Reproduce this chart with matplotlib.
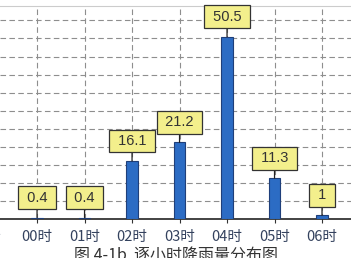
import matplotlib
matplotlib.use('Agg')
import matplotlib.pyplot as plt

plt.rcParams['font.family'] = ['Noto Sans CJK SC', 'DejaVu Sans']

# hourly rainfall (mm)
hours = ['00时', '01时', '02时', '03时', '04时', '05时', '06时']
rain = [0.4, 0.4, 16.1, 21.2, 50.5, 11.3, 1]
labels = ['0.4', '0.4', '16.1', '21.2', '50.5', '11.3', '1']

fig = plt.figure(figsize=(3.51, 2.58), dpi=100)
ax = fig.add_axes([0, 0.151, 1, 0.826])

x = list(range(len(hours)))
ax.bar(x, rain, width=0.25, color='#2c6cc4', edgecolor='#1f3f7a',
       linewidth=0.8, zorder=3)

for xi, v, lab in zip(x, rain, labels):
    ax.annotate(' ' + lab + ' ', (xi, v), xytext=(0, 20),
                textcoords='offset pixels',
                ha='center', va='center', fontsize=10.5, color='#333333',
                family=['Liberation Sans'],
                bbox=dict(boxstyle='square,pad=0.3', fc='#f3ef8c',
                          ec='#333333', lw=0.9),
                arrowprops=dict(arrowstyle='-', color='#222222', lw=0.9,
                                shrinkA=0, shrinkB=0),
                zorder=5)

ax.set_xlim(-0.78, 6.61)
ax.set_ylim(0, 59)
ax.set_yticks(range(5, 59, 5))
ax.set_xticks(x)
ax.set_xticklabels(hours, fontsize=10.5, color='#34425e', fontweight='medium')
ax.tick_params(axis='x', length=3, color='#333333', pad=5)
ax.tick_params(axis='y', left=False, labelleft=False)
ax.grid(True, linestyle=(0, (5, 3)), color='#8e8e8e', linewidth=0.8, zorder=0)

# partial label of the previous hour at the left edge
ax.text(-1.08, -0.06, '23时', transform=ax.get_xaxis_transform(),
        ha='center', va='top', fontsize=10.5, color='#34425e',
        fontweight='medium', clip_on=False)

for s in ['left', 'right']:
    ax.spines[s].set_visible(False)
ax.spines['top'].set_color('#cccccc')
ax.spines['bottom'].set_color('#222222')
ax.spines['bottom'].set_linewidth(1.2)

fig.text(0.5, 1 - 255 / 258, '图 4-1b  逐小时降雨量分布图', ha='center',
         va='center', fontsize=11.5, color='#333333')

fig.savefig('out.png', dpi=100)
